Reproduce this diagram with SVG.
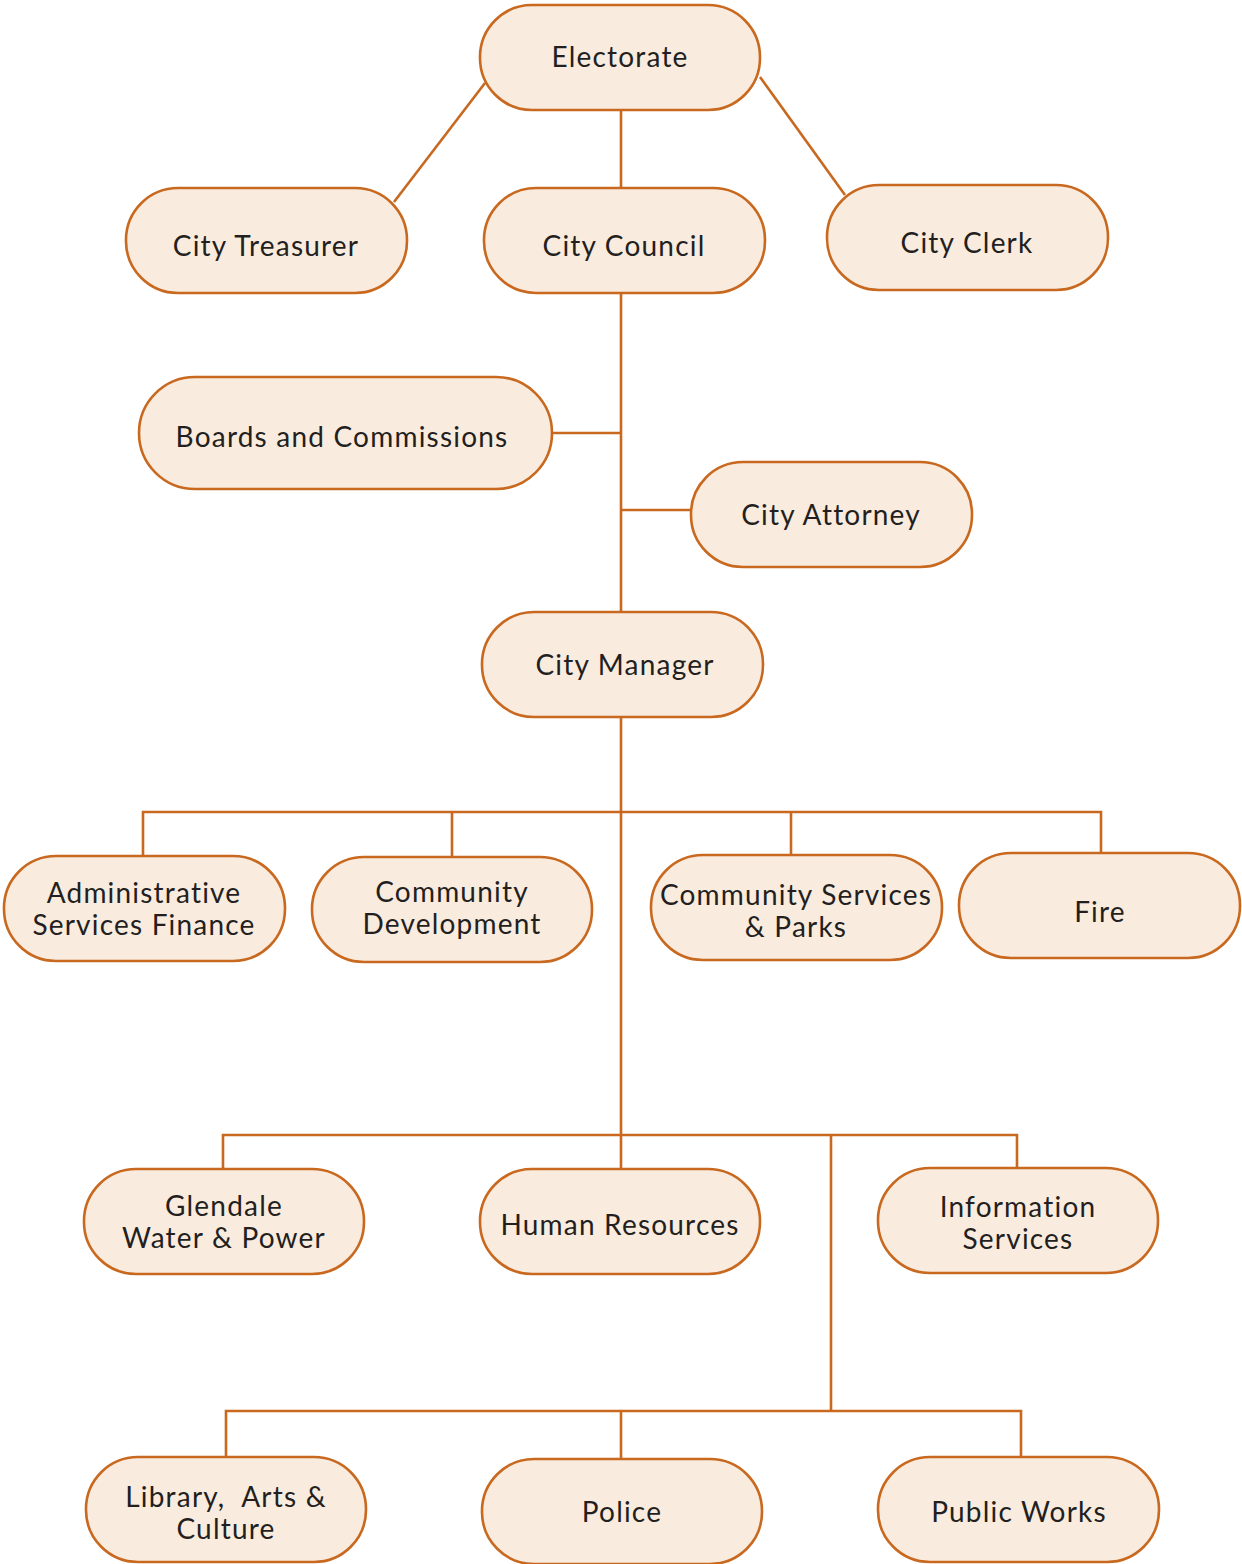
<svg xmlns="http://www.w3.org/2000/svg" width="1242" height="1564" viewBox="0 0 1242 1564">
<style>
.n rect{fill:#faebdf;stroke:#c8691f;stroke-width:2.6}
.n text{font-family:Lato,"Noto Sans",sans-serif;font-size:28px;letter-spacing:1.2px;fill:#231f20;text-anchor:middle;white-space:pre}
#connectors path{fill:none;stroke:#c8691f;stroke-width:2.6}
</style>
<rect width="1242" height="1564" fill="#ffffff"/>
<g id="connectors">
<path d="M485,83 L394,202"/>
<path d="M760,77 L845,195"/>
<path d="M621,110 V188"/>
<path d="M621,293 V612"/>
<path d="M552,433 H621"/>
<path d="M621,510 H691"/>
<path d="M621,717 V1169"/>
<path d="M143,856 V812 H1101 V853"/>
<path d="M452,857 V812"/>
<path d="M791,855 V812"/>
<path d="M223,1169 V1135 H1017 V1168"/>
<path d="M831,1135 V1411"/>
<path d="M226,1457 V1411 H1021 V1457"/>
<path d="M621,1411 V1459"/>
</g>
<g id="electorate" class="n"><rect x="480" y="5" width="280" height="105" rx="52"/><text x="620" y="67">Electorate</text></g>
<g id="city-treasurer" class="n"><rect x="126" y="188" width="281" height="105" rx="52"/><text x="266" y="256">City Treasurer</text></g>
<g id="city-council" class="n"><rect x="484" y="188" width="281" height="105" rx="52"/><text x="624" y="256">City Council</text></g>
<g id="city-clerk" class="n"><rect x="827" y="185" width="281" height="105" rx="52"/><text x="967" y="253">City Clerk</text></g>
<g id="boards" class="n"><rect x="139" y="377" width="413" height="112" rx="56"/><text x="342" y="447">Boards and Commissions</text></g>
<g id="city-attorney" class="n"><rect x="691" y="462" width="281" height="105" rx="52"/><text x="831" y="525">City Attorney</text></g>
<g id="city-manager" class="n"><rect x="482" y="612" width="281" height="105" rx="52"/><text x="625" y="675">City Manager</text></g>
<g id="admin-services" class="n"><rect x="4" y="856" width="281" height="105" rx="52"/><text x="144" y="903">Administrative</text><text x="144" y="935">Services Finance</text></g>
<g id="community-development" class="n"><rect x="312" y="857" width="280" height="105" rx="52"/><text x="452" y="902">Community</text><text x="452" y="934">Development</text></g>
<g id="community-services" class="n"><rect x="651" y="855" width="291" height="105" rx="52"/><text x="796" y="905">Community Services</text><text x="796" y="937">&amp; Parks</text></g>
<g id="fire" class="n"><rect x="959" y="853" width="281" height="105" rx="52"/><text x="1100" y="922">Fire</text></g>
<g id="gwp" class="n"><rect x="84" y="1169" width="280" height="105" rx="52"/><text x="224" y="1216">Glendale</text><text x="224" y="1248">Water &amp; Power</text></g>
<g id="human-resources" class="n"><rect x="480" y="1169" width="280" height="105" rx="52"/><text x="620" y="1235">Human Resources</text></g>
<g id="information-services" class="n"><rect x="878" y="1168" width="280" height="105" rx="52"/><text x="1018" y="1217">Information</text><text x="1018" y="1249">Services</text></g>
<g id="library" class="n"><rect x="86" y="1457" width="280" height="105" rx="52"/><text x="226" y="1507" xml:space="preserve">Library,  Arts &amp;</text><text x="226" y="1539">Culture</text></g>
<g id="police" class="n"><rect x="482" y="1459" width="280" height="105" rx="52"/><text x="622" y="1522">Police</text></g>
<g id="public-works" class="n"><rect x="878" y="1457" width="281" height="105" rx="52"/><text x="1019" y="1522">Public Works</text></g>
</svg>
